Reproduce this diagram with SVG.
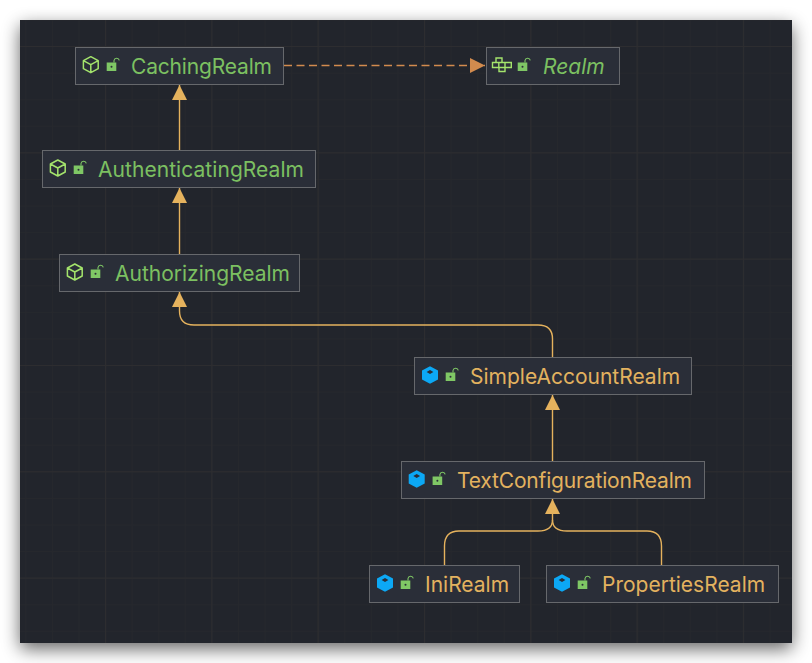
<svg xmlns="http://www.w3.org/2000/svg" width="812" height="663" viewBox="0 0 812 663">
<defs>
<filter id="sh" x="-10%" y="-10%" width="120%" height="120%"><feGaussianBlur stdDeviation="9"/></filter>
<pattern id="minor" width="26.58" height="26.58" patternUnits="userSpaceOnUse" x="25.3" y="19.5"><path d="M0.5 0V26.58M0 0.5H26.58" fill="none" stroke="#26282d" stroke-width="1"/></pattern>
<pattern id="major" width="106.32" height="106.32" patternUnits="userSpaceOnUse" x="105" y="46"><path d="M0.5 0V106.32M0 0.5H106.32" fill="none" stroke="#2d2d30" stroke-width="1"/></pattern>
<marker id="tri" markerUnits="userSpaceOnUse" markerWidth="16" markerHeight="16" refX="15" refY="8" orient="auto"><path d="M0 0.5L15 8L0 15.5Z" fill="#e5b25d"/></marker>
<marker id="tri2" markerUnits="userSpaceOnUse" markerWidth="16" markerHeight="16" refX="15" refY="8" orient="auto"><path d="M0 0.5L15 8L0 15.5Z" fill="#d28b4e"/></marker>
<g id="cube"><path d="M0 -8L7.4 -4V4L0 8L-7.4 4V-4Z M-7.4 -4L0 0L7.4 -4M0 0V8" fill="none" stroke="#a4e46c" stroke-width="1.5" stroke-linejoin="round"/></g>
<g id="bcube"><path d="M0 -8.8L8 -4.4V4.4L0 8.8L-8 4.4V-4.4Z" fill="#0ca8f5"/><path d="M0 -5L3.4 -3L0 -1L-3.4 -3Z" fill="#2a2e38"/></g>
<g id="lock"><rect x="-4.8" y="-2.5" width="9.6" height="8.5" fill="#7fc765"/><circle cx="0" cy="1.7" r="1" fill="#2a2e38"/><path d="M2.5 -2.5V-4.5A2.7 2.7 0 0 1 7.8 -4.7" fill="none" stroke="#7fc765" stroke-width="1.1"/></g>
</defs>
<style>
.box{fill:#2a2e38;stroke:#66686c;stroke-width:1}
.t{font-family:"Inter","Liberation Sans",sans-serif;font-size:21px}
.g{fill:#7cc061}.y{fill:#e3b25f}
.c{fill:none;stroke:#e5b25d;stroke-width:1.4}
</style>
<rect width="812" height="663" fill="#fff"/>
<rect x="20" y="26" width="772" height="623" fill="#000" opacity=".6" filter="url(#sh)"/>
<rect x="20" y="20" width="772" height="623" fill="#22252c"/>
<rect x="20" y="20" width="772" height="623" fill="url(#minor)"/>
<rect x="20" y="20" width="772" height="623" fill="url(#major)"/>
<g id="connectors">
<path class="c" d="M179.5 150V85" marker-end="url(#tri)"/>
<path class="c" d="M179.5 254V188" marker-end="url(#tri)"/>
<path class="c" d="M552.5 357V339Q552.5 325 538 325H194Q179.5 325 179.5 311V292" marker-end="url(#tri)"/>
<path class="c" d="M552.5 461V395" marker-end="url(#tri)"/>
<path class="c" d="M444.5 565V546Q444.5 531 459 531H538Q552.5 531 552.5 520V499" marker-end="url(#tri)"/>
<path class="c" d="M661.5 565V546Q661.5 531 647 531H567Q552.5 531 552.5 520"/>
<path d="M284 65.5H485" fill="none" stroke="#d28b4e" stroke-width="1.4" stroke-dasharray="8 4.5" marker-end="url(#tri2)"/>
</g>
<g id="CachingRealm"><rect class="box" x="75.5" y="47.5" width="208" height="37"/><use href="#cube" x="90.8" y="64.7"/><use href="#lock" x="111.5" y="65"/><text class="t g" x="131" y="74" textLength="141">CachingRealm</text></g>
<g id="Realm"><rect class="box" x="486.5" y="47.5" width="133" height="37"/><path d="M496 58h6v4.5h-6ZM492.5 62.5h6.3v5h-6.3ZM498.8 62.5h6.2v5h-6.2ZM505 62.5h6.3v5h-6.3ZM499 67.5h6v4h-6Z" fill="none" stroke="#a4e46c" stroke-width="1.4"/><use href="#lock" x="522.5" y="65"/><text class="t g" font-style="italic" x="543" y="74">Realm</text></g>
<g id="AuthenticatingRealm"><rect class="box" x="42.5" y="150.5" width="273" height="37"/><use href="#cube" x="57.8" y="168"/><use href="#lock" x="78.5" y="168"/><text class="t g" x="98" y="177" textLength="206">AuthenticatingRealm</text></g>
<g id="AuthorizingRealm"><rect class="box" x="59.5" y="254.5" width="240" height="37"/><use href="#cube" x="74.8" y="272"/><use href="#lock" x="95.5" y="272"/><text class="t g" x="115" y="281">AuthorizingRealm</text></g>
<g id="SimpleAccountRealm"><rect class="box" x="414.5" y="357.5" width="277" height="37"/><use href="#bcube" x="430" y="375"/><use href="#lock" x="450.5" y="375"/><text class="t y" x="470" y="384">SimpleAccountRealm</text></g>
<g id="TextConfigurationRealm"><rect class="box" x="401.5" y="461.5" width="303" height="37"/><use href="#bcube" x="416.7" y="479"/><use href="#lock" x="437.4" y="479"/><text class="t y" x="457" y="488" textLength="235">TextConfigurationRealm</text></g>
<g id="IniRealm"><rect class="box" x="369.5" y="565.5" width="150" height="37"/><use href="#bcube" x="385" y="583"/><use href="#lock" x="405.5" y="583"/><text class="t y" x="425" y="592">IniRealm</text></g>
<g id="PropertiesRealm"><rect class="box" x="546.5" y="565.5" width="232" height="37"/><use href="#bcube" x="562" y="583"/><use href="#lock" x="582.5" y="583"/><text class="t y" x="602" y="592">PropertiesRealm</text></g>
</svg>
